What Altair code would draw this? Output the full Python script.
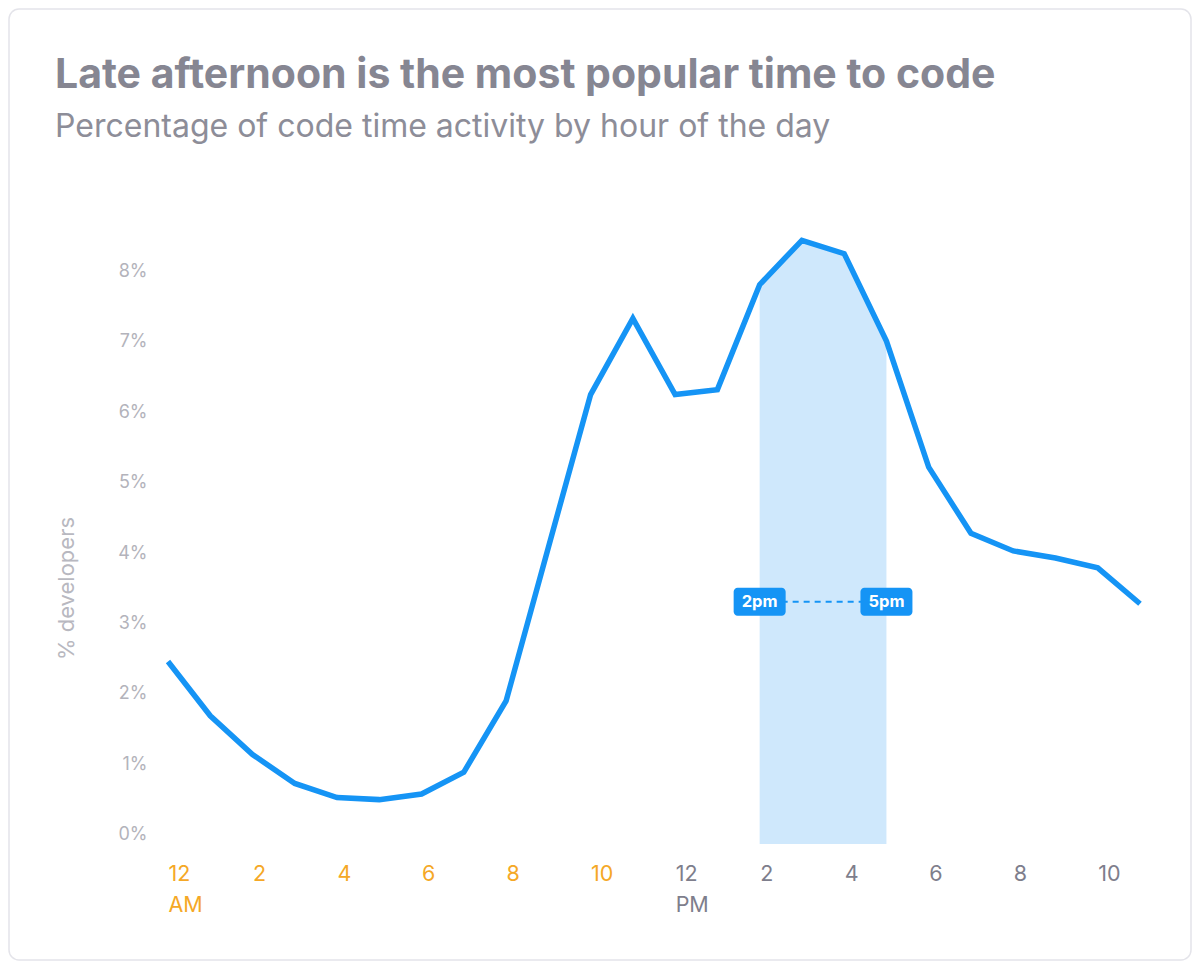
import altair as alt
import pandas as pd

# ---- data ----
hours = list(range(24))
pct = [2.46, 1.69, 1.14, 0.73, 0.53, 0.50, 0.58, 0.89, 1.90, 4.08, 6.25, 7.33,
       6.25, 6.32, 7.81, 8.44, 8.25, 7.01, 5.22, 4.28, 4.03, 3.93, 3.79, 3.28]

tick_hours = [0, 2, 4, 6, 8, 10, 12, 14, 16, 18, 20, 22]
tick_labels = ["12", "2", "4", "6", "8", "10", "12", "2", "4", "6", "8", "10"]
tick_sub = ["AM", "", "", "", "", "", "PM", "", "", "", "", ""]
y_ticks = [0, 1, 2, 3, 4, 5, 6, 7, 8]

band_start, band_end = 14, 17
ann_hours = [14, 17]
ann_labels = ["2pm", "5pm"]
ann_level = 3.31

TITLE = "Late afternoon is the most popular time to code"
SUBTITLE = "Percentage of code time activity by hour of the day"

BLUE = "#1594f5"
BAND = "#cfe8fc"
ORANGE = "#f5a826"
GRAY_X = "#7e7e8c"

Y_MIN, Y_MAX = -0.13, 8.6

df = pd.DataFrame({"hour": hours, "pct": pct})
band_df = df[(df.hour >= band_start) & (df.hour <= band_end)].copy()
band_df["base"] = Y_MIN
ann_df = pd.DataFrame({"hour": ann_hours, "label": ann_labels, "y": [ann_level] * 2})
rule_df = pd.DataFrame({"x1": [ann_hours[0]], "x2": [ann_hours[1]], "y": [ann_level]})

# label expression built from lists
parts = []
for h, lab, sub in zip(tick_hours, tick_labels, tick_sub):
    if sub:
        parts.append(f"datum.value == {h} ? ['{lab}', '{sub}']")
    else:
        parts.append(f"datum.value == {h} ? '{lab}'")
label_expr = " : ".join(parts) + " : ''"

W, H = 972, 615
PAD_L, PAD_T = 160, 221
TOTAL_W, TOTAL_H = 1184, 953

x_scale = alt.Scale(domain=[0, 23], nice=False, zero=False)
y_scale = alt.Scale(domain=[Y_MIN, Y_MAX], nice=False, zero=False)

x_axis = alt.Axis(
    values=tick_hours, labelExpr=label_expr, title=None, grid=False, domain=False,
    ticks=False, tickSize=0, labelPadding=19, labelAlign="left", labelFont="Inter",
    labelFontSize=21.5, labelLineHeight=31, labelBaseline="top",
    labelColor=alt.condition("datum.value < 12", alt.value(ORANGE), alt.value(GRAY_X)),
    labelFlush=False, labelOverlap=False,
)
y_axis = alt.Axis(
    values=y_ticks, labelExpr="datum.value + '%'", title="% developers", grid=False,
    domain=False, ticks=False, tickSize=0, labelPadding=21, labelFont="Inter",
    labelFontSize=18, labelColor="#b3b3bb", titleFont="Inter", titleFontSize=22,
    titleFontWeight="normal", titleColor="#b8b8c0", titleX=-102, titleY=359,
    titleBaseline="middle", titleAngle=-90,
)

one = pd.DataFrame({"a": [0]})

border = alt.Chart(one).mark_rect(
    fill="white", fillOpacity=0, stroke="#e4e4ea", strokeWidth=1.5, cornerRadius=10
).encode(
    x=alt.value(-PAD_L + 1), x2=alt.value(TOTAL_W - PAD_L - 1),
    y=alt.value(-PAD_T + 1), y2=alt.value(TOTAL_H - PAD_T - 1),
)

title_txt = alt.Chart(pd.DataFrame({"t": [TITLE]})).mark_text(
    font="Inter", fontSize=41, fontWeight=700, color="#868692", align="left",
    baseline="alphabetic",
).encode(x=alt.value(-113), y=alt.value(-141), text="t:N")

subtitle_txt = alt.Chart(pd.DataFrame({"t": [SUBTITLE]})).mark_text(
    font="Inter", fontSize=32, fontWeight=400, color="#8d8d98", align="left",
    baseline="alphabetic",
).encode(x=alt.value(-113), y=alt.value(-92), text="t:N")

band = alt.Chart(band_df).mark_area(color=BAND, opacity=1).encode(
    x=alt.X("hour:Q", scale=x_scale, axis=x_axis),
    y=alt.Y("pct:Q", scale=y_scale, axis=y_axis),
    y2="base:Q",
)

line = alt.Chart(df).mark_line(color=BLUE, strokeWidth=5.5, strokeJoin="miter", strokeCap="butt").encode(
    x=alt.X("hour:Q", scale=x_scale, axis=x_axis),
    y=alt.Y("pct:Q", scale=y_scale, axis=y_axis),
)

rule = alt.Chart(rule_df).mark_rule(color=BLUE, strokeWidth=2, strokeDash=[6, 5]).encode(
    x=alt.X("x1:Q", scale=x_scale), x2="x2:Q",
    y=alt.Y("y:Q", scale=y_scale),
)

boxes = alt.Chart(ann_df).mark_rect(color=BLUE, width=52, height=28, cornerRadius=4).encode(
    x=alt.X("hour:Q", scale=x_scale),
    y=alt.Y("y:Q", scale=y_scale),
)

box_text = alt.Chart(ann_df).mark_text(
    color="white", font="Inter", fontSize=16.5, fontWeight="bold", baseline="middle", align="center"
).encode(
    x=alt.X("hour:Q", scale=x_scale),
    y=alt.Y("y:Q", scale=y_scale),
    text="label:N",
)

chart = alt.layer(border, title_txt, subtitle_txt, band, line, rule, boxes, box_text).properties(
    width=W, height=H,
    autosize=alt.AutoSizeParams(type="none"),
    padding={"left": PAD_L, "top": PAD_T, "right": TOTAL_W - PAD_L - W, "bottom": TOTAL_H - PAD_T - H},
).configure(background="white").configure_view(strokeWidth=0)

chart.save("out.html", embed_options={"renderer": "svg", "actions": False})
